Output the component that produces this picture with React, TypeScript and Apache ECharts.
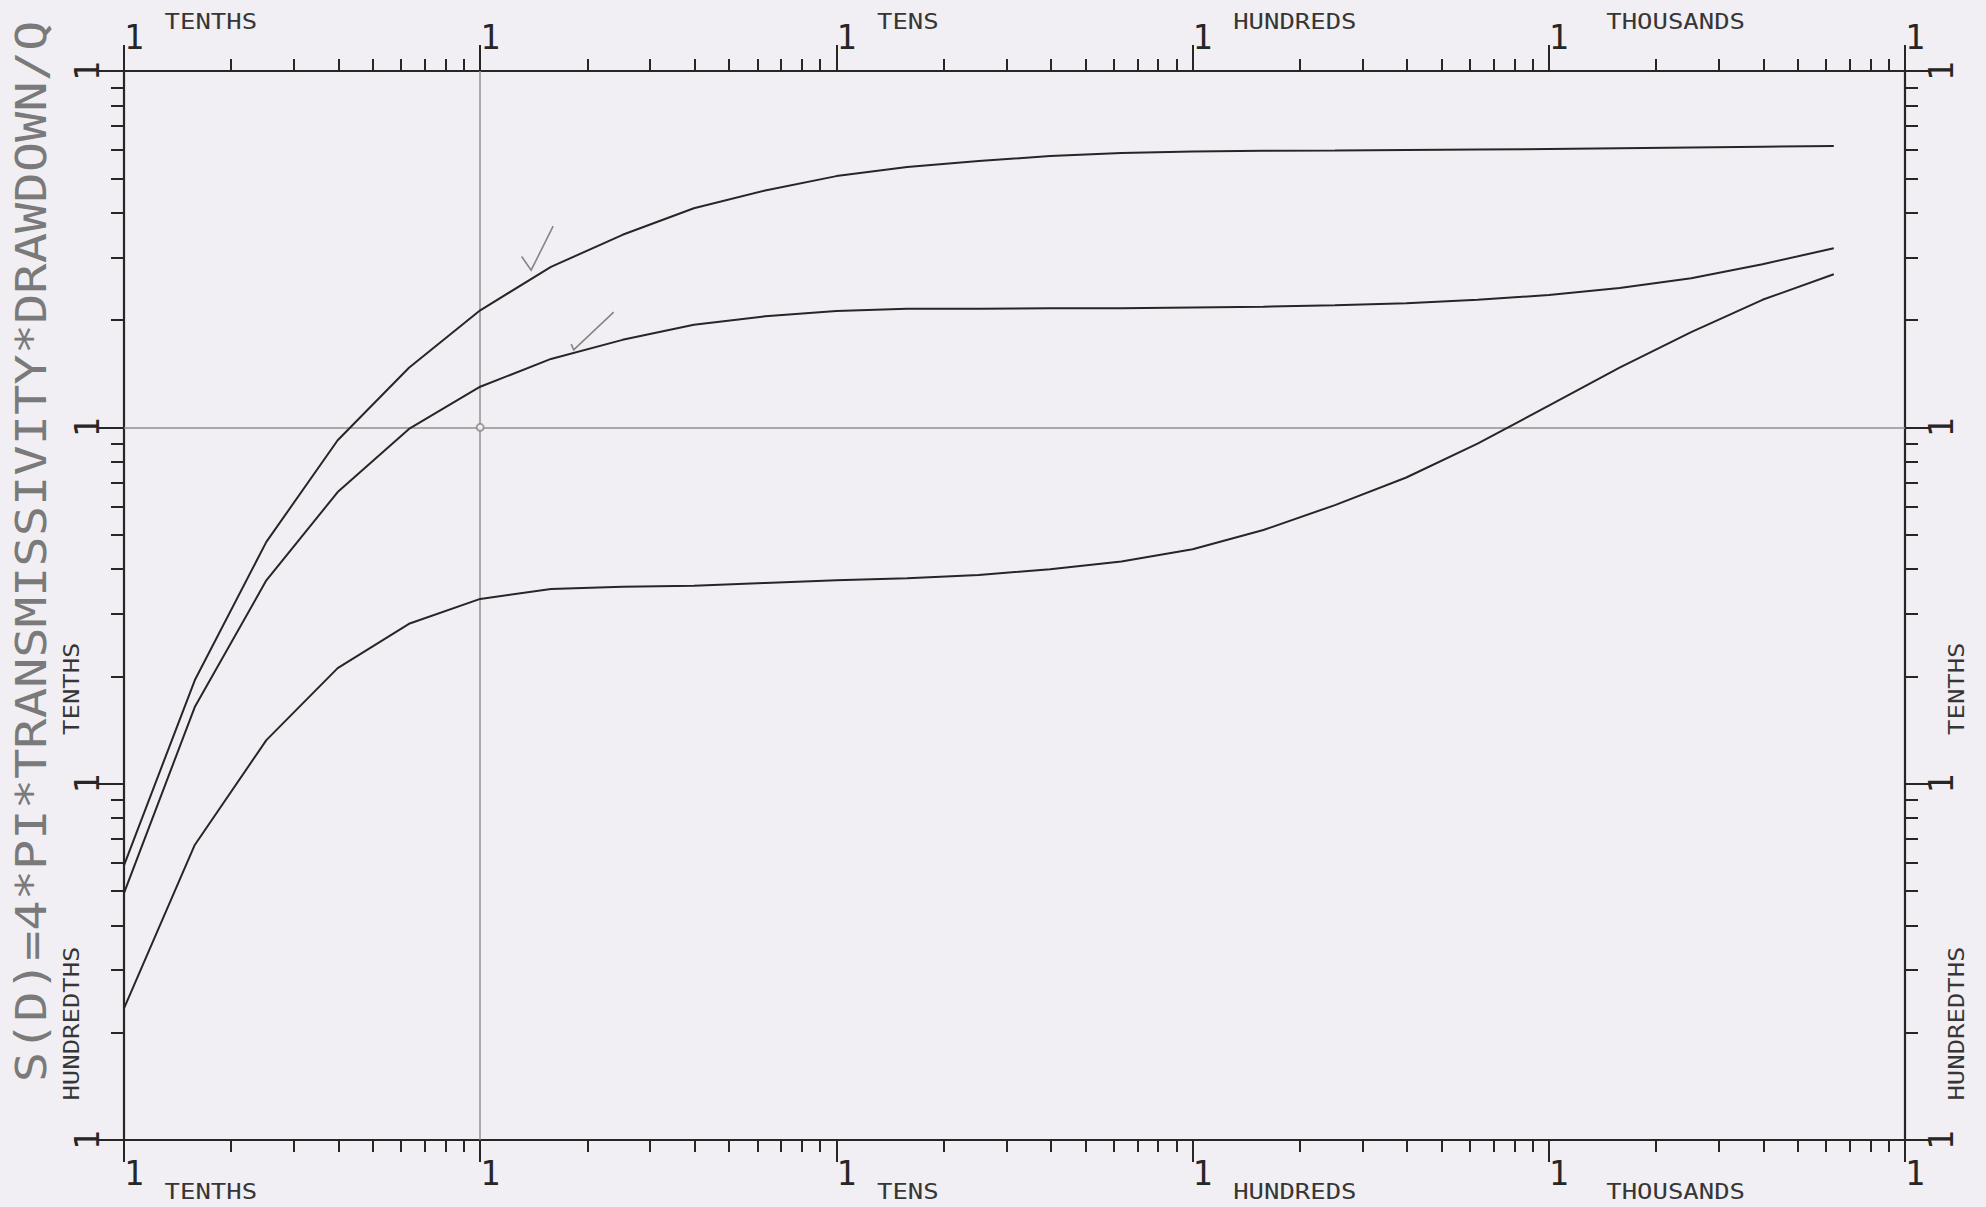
import React, { useEffect, useRef } from 'react';
import * as echarts from 'echarts';

// ---- data ----
const X_VALUES = [0.1, 0.158, 0.251, 0.398, 0.631, 1, 1.58, 2.51, 3.98, 6.31, 10, 15.8, 25.1, 39.8, 63.1, 100, 158, 251, 398, 631, 1000, 1580, 2510, 3980, 6310];
const TOP_CURVE = [0.059, 0.195, 0.477, 0.92, 1.47, 2.13, 2.82, 3.47, 4.12, 4.62, 5.07, 5.38, 5.59, 5.77, 5.89, 5.94, 5.97, 5.98, 6.0, 6.02, 6.04, 6.07, 6.1, 6.13, 6.16];
const MIDDLE_CURVE = [0.0493, 0.164, 0.372, 0.658, 0.99, 1.3, 1.556, 1.76, 1.94, 2.05, 2.12, 2.15, 2.15, 2.16, 2.16, 2.17, 2.18, 2.2, 2.23, 2.28, 2.35, 2.46, 2.62, 2.87, 3.18];
const LOWER_CURVE = [0.0234, 0.0673, 0.1325, 0.211, 0.281, 0.33, 0.352, 0.357, 0.359, 0.366, 0.372, 0.377, 0.385, 0.4, 0.42, 0.455, 0.515, 0.605, 0.723, 0.9, 1.15, 1.47, 1.85, 2.28, 2.69];

const X_DECADES = [0.1, 1, 10, 100, 1000, 10000];
const Y_DECADES = [0.01, 0.1, 1, 10];
const MANTISSAS = [2, 3, 4, 5, 6, 7, 8, 9];
const DECADE_LABEL = '1';

const X_DECADE_WORDS = ['TENTHS', 'TENS', 'HUNDREDS', 'THOUSANDS'];
const X_DECADE_WORD_AT = [0.13, 13, 130, 1450];
const Y_DECADE_WORDS = ['TENTHS', 'HUNDREDTHS'];
const Y_DECADE_WORD_AT = [0.137, 0.0129];
const Y_TITLE = 'S(D)=4*PI*TRANSMISSIVITY*DRAWDOWN/Q';

const REFERENCE_X = 1;
const REFERENCE_Y = 1;
const ORIGIN_MARK = [[1, 1]];
const CHECK_MARKS = [[1.39, 2.76], [1.83, 1.65]];

// ---- styling (not data) ----
const CHECK_SHAPES = [
  [[-9.5, -13.7], [0, 0], [22, -44]],
  [[-2.5, -5.7], [0, 0], [40, -37.7]],
];
const INK = '#262626';
const PAPER = '#f1eff3';
const MONO = '"DejaVu Sans Mono", "Liberation Mono", monospace';

function minorTicks(decades: number[]): number[] {
  const out: number[] = [];
  for (let i = 0; i < decades.length - 1; i++) {
    for (const m of MANTISSAS) out.push(Number((decades[i] * m).toPrecision(6)));
  }
  return out;
}

const X_MINOR = minorTicks(X_DECADES);
const Y_MINOR = minorTicks(Y_DECADES);

function pairs(ys: number[]) {
  return X_VALUES.map((x, i) => [x, ys[i]]);
}

export default function App() {
  const ref = useRef<HTMLDivElement>(null);

  useEffect(() => {
    if (!ref.current) return;
    const chart = echarts.init(ref.current, null, { renderer: 'svg' });

    const xMin = X_DECADES[0];
    const xMax = X_DECADES[X_DECADES.length - 1];
    const yMin = Y_DECADES[0];
    const yMax = Y_DECADES[Y_DECADES.length - 1];

    const decadeLabel = (extra: any) => ({
      show: true,
      formatter: () => DECADE_LABEL,
      fontFamily: MONO,
      fontSize: 33,
      color: INK,
      showMinLabel: true,
      showMaxLabel: true,
      ...extra,
    });

    const xAxisBase = (position: string, major: boolean) => ({
      type: 'log',
      logBase: 10,
      min: xMin,
      max: xMax,
      position,
      splitLine: { show: false },
      axisLine: { show: major, lineStyle: { color: INK, width: 2.2 } },
      axisTick: major
        ? { show: true, length: position === 'top' ? 26 : 22, lineStyle: { color: INK, width: 2 } }
        : { show: true, length: 12, customValues: X_MINOR, lineStyle: { color: INK, width: 2 } },
      axisLabel: major
        ? decadeLabel({ margin: 17, align: 'left' })
        : { show: false },
    });

    const yAxisBase = (position: string, major: boolean) => ({
      type: 'log',
      logBase: 10,
      min: yMin,
      max: yMax,
      position,
      splitLine: { show: false },
      axisLine: { show: major, lineStyle: { color: INK, width: 2.2 } },
      axisTick: major
        ? { show: true, length: 26, lineStyle: { color: INK, width: 2 } }
        : { show: true, length: 13, customValues: Y_MINOR, lineStyle: { color: INK, width: 2 } },
      axisLabel: major
        ? decadeLabel({ margin: 20, rotate: 90 })
        : { show: false },
    });

    const lineSeries = (name: string, ys: number[], extra: any = {}) => ({
      type: 'line',
      name,
      data: pairs(ys),
      xAxisIndex: 0,
      yAxisIndex: 0,
      showSymbol: false,
      symbol: 'none',
      smooth: false,
      silent: true,
      lineStyle: { color: INK, width: 2 },
      z: 3,
      ...extra,
    });

    chart.setOption({
      animation: false,
      backgroundColor: PAPER,
      grid: { left: 124, right: 81, top: 71, bottom: 67, containLabel: false },
      xAxis: [
        xAxisBase('bottom', true),
        xAxisBase('bottom', false),
        xAxisBase('top', true),
        xAxisBase('top', false),
      ],
      yAxis: [
        yAxisBase('left', true),
        yAxisBase('left', false),
        yAxisBase('right', true),
        yAxisBase('right', false),
      ],
      series: [
        lineSeries('top', TOP_CURVE, {
          markLine: {
            silent: true,
            symbol: ['none', 'none'],
            label: { show: false },
            lineStyle: { color: '#929292', width: 1.5, type: 'solid' },
            data: [{ xAxis: REFERENCE_X }, { yAxis: REFERENCE_Y }],
            z: 1,
          },
        }),
        lineSeries('middle', MIDDLE_CURVE),
        lineSeries('lower', LOWER_CURVE),
        {
          type: 'scatter',
          data: ORIGIN_MARK,
          symbol: 'emptyCircle',
          symbolSize: 7,
          silent: true,
          itemStyle: { color: '#8a8a8a', borderColor: '#8a8a8a', borderWidth: 1.5 },
          z: 4,
        },
        {
          type: 'custom',
          coordinateSystem: 'cartesian2d',
          data: CHECK_MARKS,
          silent: true,
          z: 5,
          renderItem: (params: any, api: any) => {
            const p = api.coord([api.value(0), api.value(1)]);
            const shape = CHECK_SHAPES[params.dataIndex];
            return {
              type: 'polyline',
              shape: { points: shape.map(([dx, dy]) => [p[0] + dx, p[1] + dy]) },
              style: { stroke: '#858585', lineWidth: 1.6, fill: 'none' },
            };
          },
        },
      ],
    });

    const px = (v: number) => chart.convertToPixel({ xAxisIndex: 0 } as any, v) as number;
    const py = (v: number) => chart.convertToPixel({ yAxisIndex: 0 } as any, v) as number;
    const gl = px(xMin);
    const gr = px(xMax);
    const gt = py(yMax);
    const gb = py(yMin);

    const wordStyle = (text: string) => ({
      text,
      fontFamily: MONO,
      fontSize: 21,
      fill: '#363636',
      align: 'left',
      verticalAlign: 'middle',
    });

    const graphics: any[] = [];
    X_DECADE_WORDS.forEach((w, i) => {
      const x = px(X_DECADE_WORD_AT[i]);
      graphics.push({ type: 'text', x, y: gt - 49, scaleX: 1.22, style: wordStyle(w), silent: true });
      graphics.push({ type: 'text', x, y: gb + 52, scaleX: 1.22, style: wordStyle(w), silent: true });
    });
    Y_DECADE_WORDS.forEach((w, i) => {
      const y = py(Y_DECADE_WORD_AT[i]);
      graphics.push({ type: 'text', x: gl - 52, y, rotation: Math.PI / 2, scaleX: 1.22, style: wordStyle(w), silent: true });
      graphics.push({ type: 'text', x: gr + 52, y, rotation: Math.PI / 2, scaleX: 1.22, style: wordStyle(w), silent: true });
    });
    graphics.push({
      type: 'text',
      x: gl - 92,
      y: (gt + gb) / 2 - 54,
      rotation: Math.PI / 2,
      scaleX: 1.2,
      silent: true,
      style: {
        text: Y_TITLE,
        fontFamily: MONO,
        fontSize: 42,
        fill: '#7a7a7a',
        align: 'center',
        verticalAlign: 'middle',
      },
    });

    chart.setOption({ graphic: graphics });

    return () => chart.dispose();
  }, []);

  return (
    <div
      ref={ref}
      style={{ position: 'fixed', left: 0, top: 0, width: 1986, height: 1207, background: PAPER }}
    />
  );
}
